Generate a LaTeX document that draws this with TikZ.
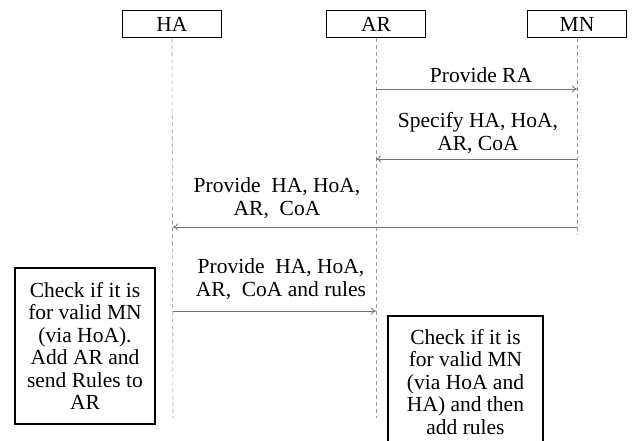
\documentclass[tikz,border=0pt]{standalone}
\usepackage{fontspec}
\setmainfont{Liberation Serif}
\usetikzlibrary{arrows.meta}
\begin{document}
\begin{tikzpicture}[x=1pt,y=-1pt,
  every node/.style={font=\fontsize{21.5}{22.5}\selectfont, align=center, inner sep=0pt},
  actor/.style={draw=black, line width=1.8pt, minimum width=99pt, minimum height=27pt},
  notebox/.style={draw=black, line width=1.8pt},
  lifeline/.style={draw=gray!80, line width=0.6pt, dash pattern=on 4pt off 3pt},
  msg/.style={draw=gray!90!black, line width=0.8pt, -{To[length=5pt,width=7pt]}},
  lbl/.style={text=black}]
  \clip (0,0) rectangle (633,440);
  \fill[white] (0,0) rectangle (633,440);

  % participants
  \node[actor] (HA) at (172,24) {HA};
  \node[actor] (AR) at (376,24) {AR};
  \node[actor] (MN) at (577,24) {MN};

  % lifeline ends
  \coordinate (HAend) at (173,418);
  \coordinate (ARend) at (376,418);
  \coordinate (MNend) at (577,235);
  \draw[lifeline] (HA.south) -- (HAend);
  \draw[lifeline] (AR.south) -- (ARend);
  \draw[lifeline] (MN.south) -- (MNend);

  % message anchor points
  \coordinate (ar1) at (376,89);  \coordinate (mn1) at (577,89);
  \coordinate (mn2) at (577,159); \coordinate (ar2) at (376,159);
  \coordinate (mn3) at (577,227); \coordinate (ha3) at (173,227);
  \coordinate (ha4) at (173,311); \coordinate (ar4) at (376,311);

  \draw[msg] (ar1) -- (mn1);
  \draw[msg] (mn2) -- (ar2);
  \draw[msg] (mn3) -- (ha3);
  \draw[msg] (ha4) -- (ar4);

  % message labels
  \node[lbl] (l1) at (481,75) {Provide RA};
  \node[lbl] (l2) at (478,133) {Specify HA, HoA,\\AR, CoA};
  \node[lbl] (l3) at (277,198) {Provide~~HA, HoA,\\AR,~~CoA};
  \node[lbl] (l4) at (281,279) {Provide~~HA, HoA,\\AR,~~CoA and rules};

  % processing notes
  \node[notebox, minimum width=140pt, minimum height=156pt] (n1) at (85,346)
    {Check if it is\\for valid MN\\(via HoA).\\Add AR and\\send Rules to\\AR};
  \node[notebox, minimum width=155pt, minimum height=132pt] (n2) at (465.5,382)
    {Check if it is\\for valid MN\\(via HoA and\\HA) and then\\add rules};
\end{tikzpicture}
\end{document}
